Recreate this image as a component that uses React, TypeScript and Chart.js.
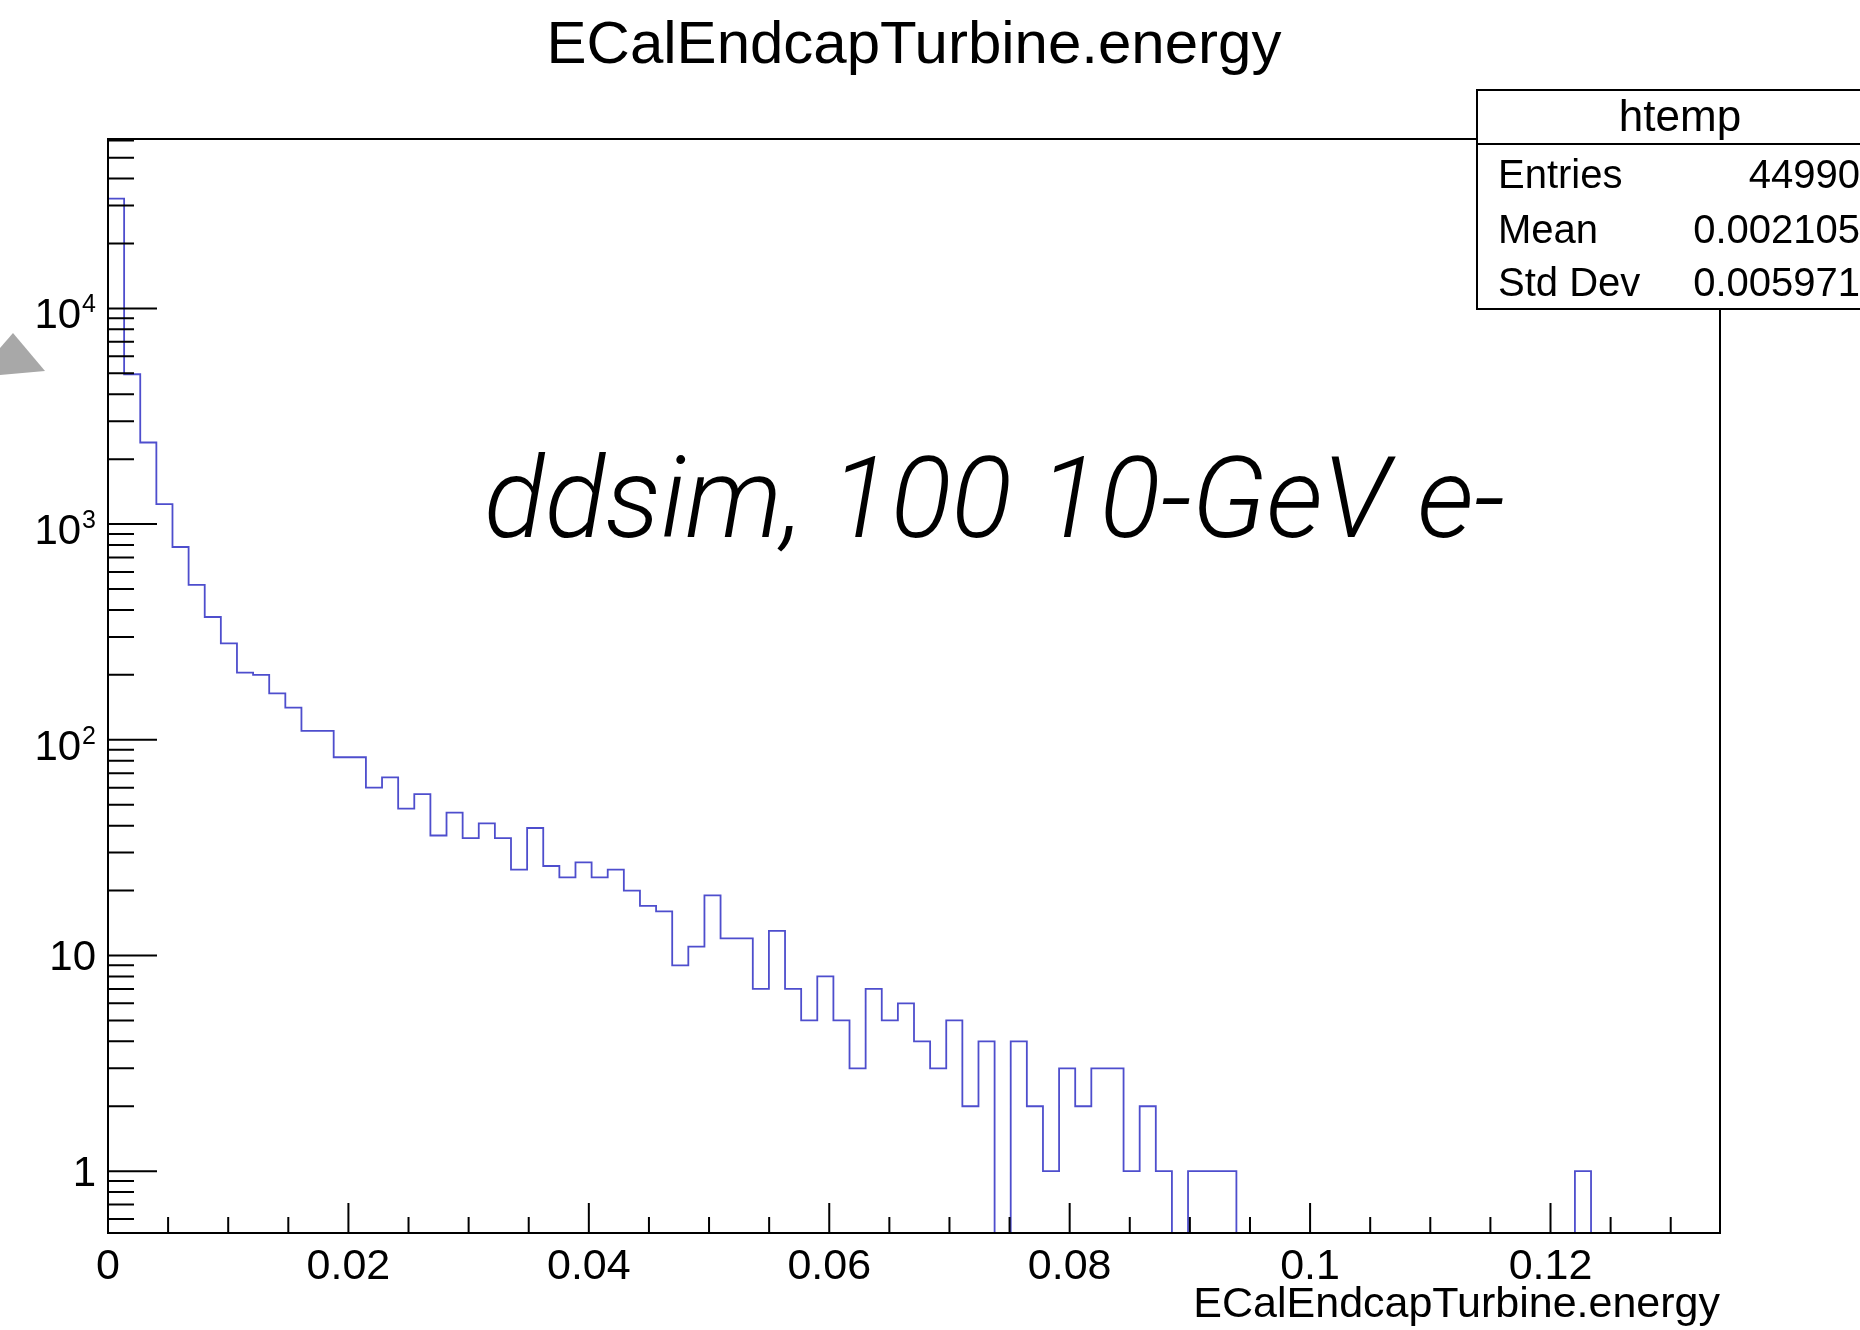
import React, { useEffect, useRef } from 'react';
import { Chart, registerables } from 'chart.js';

Chart.register(...registerables);

// ---------- data ----------
const TITLE = 'ECalEndcapTurbine.energy';
const X_TITLE = 'ECalEndcapTurbine.energy';
const X_MIN = 0;
const X_MAX = 0.1341;
const N_BINS = 100;
const X_MAJOR_TICKS = [0, 0.02, 0.04, 0.06, 0.08, 0.1, 0.12];
const X_MINOR_STEP = 0.005;
const Y_MIN = 0.517;
const Y_MAX = 61000;
const Y_MAJOR_TICKS = [1, 10, 100, 1000, 10000];
// label base and exponent ('' = plain)
const Y_TICK_BASES = ['1', '10', '10', '10', '10'];
const Y_TICK_EXPONENTS = ['', '', '2', '3', '4'];

// counts per bin (100 bins from X_MIN to X_MAX)
const COUNTS = [
  32300, 4950, 2390, 1238, 783, 523, 371, 280, 205, 200,
  164, 141, 110, 110, 83, 83, 60, 67, 48, 56,
  36, 46, 35, 41, 35, 25, 39, 26, 23, 27,
  23, 25, 20, 17, 16, 9, 11, 19, 12, 12,
  7, 13, 7, 5, 8, 5, 3, 7, 5, 6,
  4, 3, 5, 2, 4, 0, 4, 2, 1, 3,
  2, 3, 3, 1, 2, 1, 0, 1, 1, 1,
  0, 0, 0, 0, 0, 0, 0, 0, 0, 0,
  0, 0, 0, 0, 0, 0, 0, 0, 0, 0,
  0, 1, 0, 0, 0, 0, 0, 0, 0, 0,
];

const STATS_NAME = 'htemp';
const STATS_LABELS = ['Entries', 'Mean', 'Std Dev'];
const STATS_VALUES = ['44990', '0.002105', '0.005971'];
const NOTE_TEXT = 'ddsim, 100 10-GeV e-';

const FONT = "'Liberation Sans', Arial, Helvetica, sans-serif";

export default function App() {
  const ref = useRef<HTMLCanvasElement>(null);

  useEffect(() => {
    const canvas = ref.current;
    if (!canvas) return;
    const bw = (X_MAX - X_MIN) / N_BINS;
    const pts = COUNTS.map((c, i) => ({ x: X_MIN + i * bw, y: c > 0 ? c : Y_MIN }));
    pts.push({ x: X_MAX, y: Y_MIN });

    const overlay = {
      id: 'overlay',
      afterDatasetsDraw(chart: any) {
        const ctx = chart.ctx as CanvasRenderingContext2D;
        const { left, right, top, bottom } = chart.chartArea;
        const xs = chart.scales.x;
        const ys = chart.scales.y;
        ctx.save();
        ctx.strokeStyle = '#000';
        ctx.lineWidth = 2;
        // frame
        ctx.strokeRect(left, top, right - left, bottom - top);
        // x ticks (inside)
        ctx.beginPath();
        const nMinor = Math.floor((X_MAX - X_MIN) / X_MINOR_STEP + 1e-9);
        for (let k = 0; k <= nMinor; k++) {
          const v = X_MIN + k * X_MINOR_STEP;
          const px = xs.getPixelForValue(v);
          const major = X_MAJOR_TICKS.some((t) => Math.abs(t - v) < 1e-9);
          const len = major ? 30 : 16;
          ctx.moveTo(px, bottom);
          ctx.lineTo(px, bottom - len);
        }
        // y ticks (inside)
        for (let d = -1; d <= 4; d++) {
          for (let m = 1; m <= 9; m++) {
            const v = m * Math.pow(10, d);
            if (v < Y_MIN || v > Y_MAX) continue;
            const py = ys.getPixelForValue(v);
            const len = m === 1 ? 49 : 26;
            ctx.moveTo(left, py);
            ctx.lineTo(left + len, py);
          }
        }
        ctx.stroke();

        // y tick labels with superscript exponents
        ctx.fillStyle = '#000';
        ctx.textAlign = 'right';
        ctx.textBaseline = 'alphabetic';
        const labelRight = left - 12;
        Y_MAJOR_TICKS.forEach((v, i) => {
          const py = ys.getPixelForValue(v);
          const base = Y_TICK_BASES[i];
          const exp = Y_TICK_EXPONENTS[i];
          if (!exp) {
            ctx.font = `42px ${FONT}`;
            ctx.fillText(base, labelRight, py + 15);
          } else {
            ctx.font = `25px ${FONT}`;
            const ew = ctx.measureText(exp).width;
            ctx.fillText(exp, labelRight, py + 4);
            ctx.font = `42px ${FONT}`;
            ctx.fillText(base, labelRight - ew - 1, py + 20);
          }
        });

        // stats box
        const bx = 1477, by = 90, bwid = 404, bh = 219;
        ctx.fillStyle = '#fff';
        ctx.fillRect(bx, by, bwid, bh);
        ctx.lineWidth = 2;
        ctx.strokeRect(bx, by, bwid, bh);
        ctx.beginPath();
        ctx.moveTo(bx, 144);
        ctx.lineTo(bx + bwid, 144);
        ctx.stroke();
        ctx.fillStyle = '#000';
        ctx.textBaseline = 'alphabetic';
        ctx.font = `44px ${FONT}`;
        ctx.textAlign = 'center';
        ctx.fillText(STATS_NAME, 1680, 131);
        ctx.font = `40px ${FONT}`;
        const rowsY = [188, 243, 296];
        STATS_LABELS.forEach((lab, i) => {
          ctx.textAlign = 'left';
          ctx.fillText(lab, 1498, rowsY[i]);
          ctx.textAlign = 'right';
          ctx.fillText(STATS_VALUES[i], 1860, rowsY[i]);
        });

        // annotation text
        ctx.textAlign = 'left';
        let size = 104;
        ctx.font = `italic 300 ${size}px Roboto, ${FONT}`;
        const w = ctx.measureText(NOTE_TEXT).width;
        size = size * 1021 / w;
        ctx.font = `italic 300 ${size}px Roboto, ${FONT}`;
        ctx.fillText(NOTE_TEXT, 484, 537);

        // gray arrow head at left edge
        ctx.fillStyle = '#a8a8a8';
        ctx.beginPath();
        ctx.moveTo(13, 333);
        ctx.lineTo(45, 371);
        ctx.lineTo(0, 375);
        ctx.lineTo(0, 348);
        ctx.closePath();
        ctx.fill();
        ctx.restore();
      },
    };

    const chart = new Chart(canvas, {
      type: 'line',
      data: {
        datasets: [
          {
            data: pts,
            borderColor: 'rgb(78, 78, 205)',
            borderWidth: 1.8,
            pointRadius: 0,
            pointHoverRadius: 0,
            stepped: 'before',
            fill: false,
            tension: 0,
            borderJoinStyle: 'miter',
            borderCapStyle: 'butt',
          },
        ],
      },
      options: {
        animation: false,
        responsive: false,
        maintainAspectRatio: false,
        devicePixelRatio: 1,
        events: [],
        layout: { padding: { left: 0, top: 0, right: 140, bottom: 0 } },
        plugins: {
          legend: { display: false },
          tooltip: { enabled: false },
          title: {
            display: true,
            text: TITLE,
            color: '#000',
            fullSize: false,
            font: { family: FONT, size: 60, weight: 'normal', lineHeight: 1.2 },
            padding: { top: 10, bottom: 57 },
          },
        },
        scales: {
          x: {
            type: 'linear',
            position: 'bottom',
            min: X_MIN,
            max: X_MAX,
            grid: { display: false, drawTicks: false },
            border: { display: false },
            afterBuildTicks: (s: any) => {
              s.ticks = X_MAJOR_TICKS.map((v) => ({ value: v }));
            },
            afterFit: (s: any) => {
              s.height = 97;
            },
            ticks: {
              color: '#000',
              font: { family: FONT, size: 43, lineHeight: 1.2 },
              padding: 8,
              maxRotation: 0,
              autoSkip: false,
              callback: (v: any) => String(v),
            },
            title: {
              display: true,
              text: X_TITLE,
              align: 'end',
              color: '#000',
              font: { family: FONT, size: 43, lineHeight: 1 },
              padding: { top: 0, bottom: 3 },
            },
          },
          y: {
            type: 'logarithmic',
            min: Y_MIN,
            max: Y_MAX,
            grid: { display: false, drawTicks: false },
            border: { display: false },
            afterBuildTicks: (s: any) => {
              s.ticks = Y_MAJOR_TICKS.map((v) => ({ value: v }));
            },
            afterFit: (s: any) => {
              s.width = 108;
            },
            ticks: { display: false },
          },
        },
      },
      plugins: [overlay],
    } as any);

    return () => chart.destroy();
  }, []);

  return (
    <canvas
      ref={ref}
      width={1860}
      height={1330}
      style={{ position: 'absolute', left: 0, top: 0, display: 'block', background: '#fff' }}
    />
  );
}
